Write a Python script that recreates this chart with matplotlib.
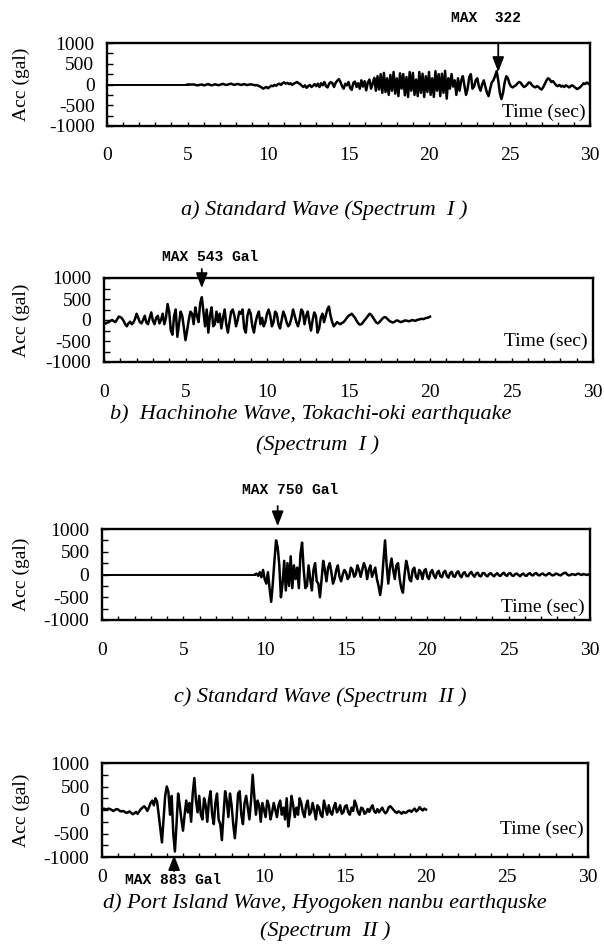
import numpy as np
import matplotlib
matplotlib.use("Agg")
import matplotlib.pyplot as plt
from matplotlib.ticker import MultipleLocator

plt.rcParams["font.family"] = ["Liberation Serif", "DejaVu Serif"]
plt.rcParams["axes.unicode_minus"] = False

# ─────────────────────────────────────────────
# Acceleration records (gal), sampled every DT seconds
# ─────────────────────────────────────────────
DT = 0.1

# a) Standard wave, spectrum I  (flat before 5.0 s)
start_a = 5.0
acc_a = [
    0, 0, 0, 0, 0, -10, -20, -15, -5, 0,
    -20, -15, 0, 10, -10, -20, -10, 5, -5, -15,
    -10, 5, 15, 0, -10, -5, 10, 20, 5, -10,
    0, 15, 5, -10, -5, 10, 0, -15, -5, 5,
    0, -10, -20, -15, -30, -50, -70, -100, -80, -60,
    -90, -60, -30, -40, -10, -30, 0, 20, -10, 30,
    50, 20, 40, 10, 30, -10, 20, 40, 60, 30,
    10, -30, -60, -20, -80, -40, -10, -60, -30, 10,
    -40, 20, -60, 30, -20, 60, -40, -70, 20, 60,
    30, -60, 40, 90, 130, 60, -40, -100, 20, -20,
    60, -80, -130, 40, 70, -60, 30, -100, 100, -50,
    80, -140, 50, 120, -100, 20, 160, -150, 200, -120,
    250, -200, 280, -180, 150, -250, 230, -150, 300, -220,
    150, -280, 270, -100, 250, -260, 180, -300, 300, -150,
    280, -250, 120, -280, 300, -200, 260, -300, 200, -180,
    300, -250, 150, -300, 320, -150, 250, -280, 260, -200,
    330, -340, 150, -100, 250, -50, 100, -250, 150, -150,
    100, 200, -20, -250, -100, 180, 250, -100, -50, 100,
    150, -50, -150, 0, 100, -50, -200, -280, -100, 50,
    100, 200, 322, 100, -200, -350, -200, 50, 200, 150,
    20, -50, -70, -40, -20, 30, 60, 40, -20, -60,
    -40, 0, 50, 40, -20, -50, -70, -40, -60, -100,
    -120, -60, 20, 100, 150, 120, 60, 80, 30, -20,
    -40, -10, -50, -30, -60, -20, -40, -70, -40, -20,
    -50, -80, -110, -90, -60, -20, 30, 10, 50, 20,
    0,
]

# b) Hachinohe wave, Tokachi-oki earthquake
start_b = 0.0
acc_b = [
    -100, -80, -60, -50, -20, 0, -30, -50, 10, 80,
    70, 40, -20, -100, -150, -80, -40, -100, -60, 20,
    150, 50, -50, -80, 0, 100, -60, -100, 50, 180,
    -20, -100, 50, 100, -80, 0, 150, -100, 50, 380,
    200, -250, -350, 100, 250, -400, -100, 200, 100, -200,
    -480, -250, 0, 200, 150, -100, 300, 100, -50, 400,
    543, 200, -150, 250, -300, 100, 300, -150, -100, 200,
    -50, 150, -200, 50, 250, -100, -300, -50, 200, 250,
    100, -150, 0, 200, 150, 250, -200, -300, 100, 250,
    150, -150, -300, -50, 100, 200, -100, 50, -150, -50,
    150, 250, 100, -150, -50, 200, 150, -100, -200, 0,
    200, 100, -50, -150, -100, 50, 250, 100, -50, -150,
    0, 250, 200, -100, 100, 200, -50, -250, 0, 180,
    100, -300, -200, 50, 150, -50, 100, 250, 320, 100,
    -50, -150, -100, -50, -80, -100, -70, -50, 0, 50,
    100, 120, 150, 100, 50, -20, -80, -110, -100, -50,
    0, 50, 100, 150, 120, 60, 0, -60, -80, -50,
    0, 40, 70, 60, 20, -20, -40, -60, -50, -20,
    -10, -30, -50, -40, -20, -10, -20, -30, -20, 0,
    -10, -20, 0, 10, 20, 30, 20, 40, 50, 60,
    80,
]

# c) Standard wave, spectrum II  (flat before 9.4 s)
start_c = 9.4
acc_c = [
    0, 20, -30, 50, -60, 100,
    -100, -200, 50, -300, -600, -200, 300, 750, 600, 200,
    -500, -200, 300, -350, 250, -250, 400, -300, 200, -100,
    150, -300, 450, 700, 100, -300, -250, 200, -100, -350,
    100, 250, -150, -200, -500, -100, 300, 100, -150, 150,
    250, 50, -200, -100, 100, 200, -50, -150, 0, 100,
    50, -100, -50, 150, 100, -50, 0, 200, 100, -50,
    100, 250, 150, -100, 100, 200, -50, 50, 150, -100,
    -250, -450, -200, 300, 750, 200, -200, 150, 350, 100,
    -100, 200, 250, -100, -300, -400, 0, 300, 150, -100,
    -150, 100, 150, -50, -100, 100, 50, -100, 80, 120,
    -50, -100, 50, 100, -20, -80, 40, 80, -40, -60,
    50, 80, -30, -70, 30, 60, -40, -50, 40, 70,
    -20, -60, 30, 50, -30, -40, 20, 60, -10, -50,
    20, 40, -30, -40, 30, 30, -20, -40, 10, 30,
    -10, -40, 0, 30, -20, -30, 10, 40, -10, -30,
    20, 30, -20, -30, 10, 20, -10, -40, 0, 20,
    -20, -30, 10, 30, -10, -20, 20, 30, -10, -20,
    10, 20, -10, -20, 10, 30, 0, -20, -10, 20,
    10, -10, -20, 10, 30, 40, 0, -20, -10, 10,
    0, -10, 10, 20, 0, -10, 10, 0, -10, 0,
    0,
]

# d) Port Island wave, Hyogoken nanbu earthquake
start_d = 0.0
acc_d = [
    0, 30, 20, 10, 30, 20, 0, -20, 0, 20,
    10, -20, -30, -20, -40, -60, -50, -30, -60, -90,
    -70, -40, -80, -30, 20, 50, 80, 40, -20, 60,
    150, 200, 100, 250, 180, -100, -400, -690, -200, 300,
    500, 380, -100, 300, -500, -883, -300, 350, 100, -200,
    -440, -100, 200, -50, 150, -250, 350, 680, 200, -50,
    300, -100, -200, 250, 100, -250, 200, 400, -100, -300,
    150, 350, -200, -300, -640, -100, 400, 200, -150, 350,
    100, -300, -600, -200, 350, 400, -100, -300, 150, 300,
    50, -200, 200, 750, 300, -100, 200, 100, -250, 150,
    0, -150, 200, 100, -200, -50, 150, 0, -150, 100,
    200, -100, 50, -200, 250, -350, -100, 300, 100, -150,
    50, -100, 250, 150, -50, -150, 100, 200, -100, -50,
    150, 0, -200, 100, 50, -100, -150, 200, 50, -100,
    100, -50, -100, 50, 150, -50, 0, 100, -80, -50,
    80, 100, -50, -100, 50, -20, 200, 100, -50, -100,
    50, 30, -80, -60, 20, -40, 50, 100, -30, -60,
    20, -50, 0, 50, -30, -70, -30, 60, 80, 40,
    0, -40, -60, -30, -50, -80, -40, -60, -50, -20,
    -10, -40, 0, 30, -30, 0, 60, 20, -10, 30,
    10,
]

x_ticks = [0, 5, 10, 15, 20, 25, 30]
y_ticks = [-1000, -500, 0, 500, 1000]
captions = [
    ["a) Standard Wave (Spectrum  I )"],
    ["b)  Hachinohe Wave, Tokachi-oki earthquake", "(Spectrum  I )"],
    ["c) Standard Wave (Spectrum  II )"],
    ["d) Port Island Wave, Hyogoken nanbu earthquske", "(Spectrum  II )"],
]
max_labels = ["MAX  322", "MAX 543 Gal", "MAX 750 Gal", "MAX 883 Gal"]
max_times = [24.3, 6.0, 10.8, 4.45]

# ─────────────────────────────────────────────
# Layout (pixel boxes: left, top, right, bottom)
# ─────────────────────────────────────────────
W, H = 604, 944
boxes = [(107, 43, 590, 126), (104, 278, 593, 362),
         (102, 529, 590, 620), (102, 763, 588, 857)]
xpads = [15, 16, 16, 9]
time_y = [0.17, 0.24, 0.14, 0.29]
caption_pos = [[(324, 210)], [(311, 414), (317, 445)],
               [(320, 697)], [(325, 903), (325, 931)]]
max_text_pos = [(486, 18), (210, 257), (290, 490), (173, 880)]
# arrow tail / tip in data units
arrow_y = [(1000, 300), (1214, 760), (1505, 1060), (-1300, -960)]

fig = plt.figure(figsize=(W / 100, H / 100), dpi=100)

records = [(start_a, acc_a), (start_b, acc_b), (start_c, acc_c), (start_d, acc_d)]

for i, ((start, acc), box) in enumerate(zip(records, boxes)):
    l, t, r, b = box
    ax = fig.add_axes([l / W, 1 - b / H, (r - l) / W, (b - t) / H])
    acc = np.array(acc, dtype=float)
    tt = start + DT * np.arange(len(acc))
    if start > 0:
        ax.plot([0, start], [0, 0], color="black", lw=1.4)
    ax.plot(tt, acc, color="black", lw=1.8, solid_joinstyle="round")

    ax.set_xlim(0, 30)
    ax.set_ylim(-1000, 1000)
    ax.set_xticks(x_ticks)
    # in d) the peak label sits where "5" would be
    ax.set_xticklabels(["" if (i == 3 and v == 5) else str(v) for v in x_ticks])
    ax.xaxis.set_minor_locator(MultipleLocator(1))
    ax.set_yticks(y_ticks)
    ax.yaxis.set_minor_locator(MultipleLocator(250))
    ax.tick_params(axis="x", which="both", direction="in", length=3,
                   width=1, labelsize=14, pad=xpads[i])
    ax.tick_params(axis="y", which="both", direction="in", length=4,
                   width=1, labelsize=14, pad=9)
    for s in ax.spines.values():
        s.set_linewidth(1.7)

    ax.text(0.99, time_y[i], "Time (sec)", transform=ax.transAxes,
            ha="right", va="center", fontsize=14)
    fig.text(21 / W, 1 - ((t + b) / 2) / H, "Acc (gal)", rotation=90,
             ha="center", va="center", fontsize=14)

    # peak marker
    y0, y1 = arrow_y[i]
    ax.annotate("", xy=(max_times[i], y1), xytext=(max_times[i], y0),
                annotation_clip=False,
                arrowprops=dict(arrowstyle="-|>,head_length=0.9,head_width=0.35",
                                color="black", lw=1.3, shrinkA=0, shrinkB=0))
    mx, my = max_text_pos[i]
    fig.text(mx / W, 1 - my / H, max_labels[i], ha="center", va="center",
             fontsize=10.5, fontweight="bold", family="Liberation Mono")

    for text, (cx, cy) in zip(captions[i], caption_pos[i]):
        fig.text(cx / W, 1 - cy / H, text, ha="center", va="center",
                 fontsize=16, style="italic")

fig.savefig("out.png", dpi=100)
